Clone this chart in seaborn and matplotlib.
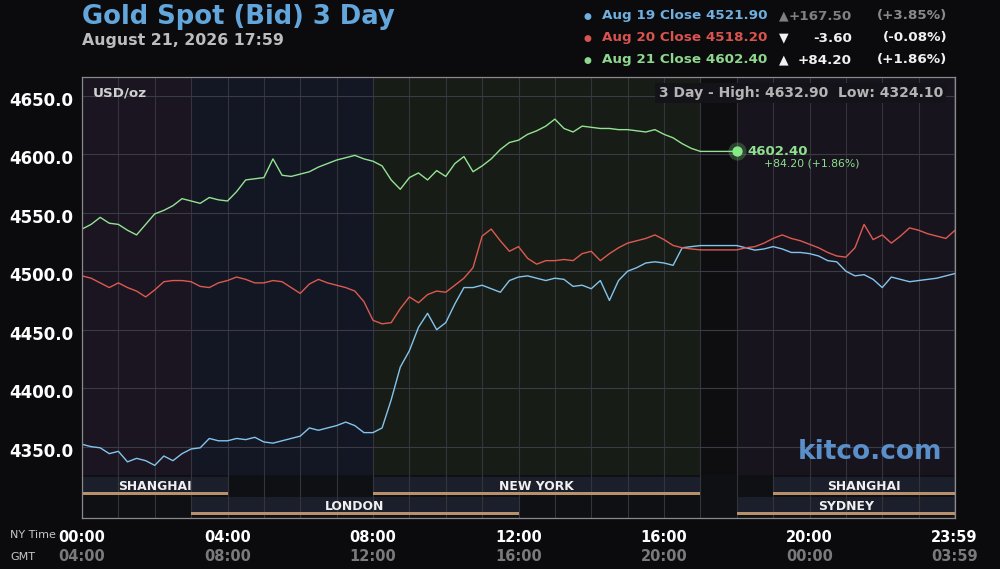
import numpy as np
import pandas as pd
import matplotlib
matplotlib.use("Agg")
import matplotlib.pyplot as plt
import seaborn as sns
from matplotlib.transforms import blended_transform_factory, ScaledTranslation

# ---------------- data (15-minute samples, NY time hours) ----------------
hours = [i * 0.25 for i in range(97)]          # 00:00 .. 24:00
green_hours = hours[:73]                        # 00:00 .. 18:00 (current 17:59)

aug19 = [
    4352, 4350, 4349, 4344,   # 0h
    4346, 4337, 4340, 4338,   # 1h
    4334, 4342, 4338, 4344,   # 2h
    4348, 4349, 4357, 4355,   # 3h
    4355, 4357, 4356, 4358,   # 4h
    4354, 4353, 4355, 4357,   # 5h
    4359, 4366, 4364, 4366,   # 6h
    4368, 4371, 4368, 4362,   # 7h
    4362, 4366, 4390, 4418,   # 8h
    4432, 4452, 4464, 4450,   # 9h
    4456, 4472, 4486, 4486,   # 10h
    4488, 4485, 4482, 4492,   # 11h
    4495, 4496, 4494, 4492,   # 12h
    4494, 4493, 4487, 4488,   # 13h
    4485, 4492, 4475, 4492,   # 14h
    4500, 4503, 4507, 4508,   # 15h
    4507, 4505, 4520, 4521,   # 16h
    4521.9, 4521.9, 4521.9, 4521.9,  # 17h
    4521.9, 4520, 4518, 4519,  # 18h
    4521, 4519, 4516, 4516,   # 19h
    4515, 4513, 4509, 4508,   # 20h
    4500, 4496, 4497, 4493,   # 21h
    4486, 4495, 4493, 4491,   # 22h
    4492, 4493, 4494, 4496,   # 23h
    4498,
]
aug20 = [
    4496, 4494, 4490, 4486,
    4490, 4486, 4483, 4478,
    4484, 4491, 4492, 4492,
    4491, 4487, 4486, 4490,
    4492, 4495, 4493, 4490,
    4490, 4492, 4491, 4486,
    4481, 4489, 4493, 4490,
    4488, 4486, 4483, 4474,
    4458, 4455, 4456, 4468,
    4478, 4473, 4480, 4483,
    4482, 4488, 4494, 4503,
    4530, 4536, 4526, 4517,
    4521, 4511, 4506, 4509,
    4509, 4510, 4509, 4515,
    4517, 4509, 4515, 4520,
    4524, 4526, 4528, 4531,
    4527, 4522, 4520, 4519,
    4518.2, 4518.2, 4518.2, 4518.2,
    4518.2, 4520, 4521, 4524,
    4528, 4531, 4528, 4526,
    4523, 4520, 4516, 4513,
    4512, 4520, 4540, 4527,
    4531, 4524, 4530, 4537,
    4535, 4532, 4530, 4528,
    4535,
]
aug21 = [
    4536, 4540, 4546, 4541,
    4540, 4535, 4531, 4540,
    4549, 4552, 4556, 4562,
    4560, 4558, 4563, 4561,
    4560, 4568, 4578, 4579,
    4580, 4596, 4582, 4581,
    4583, 4585, 4589, 4592,
    4595, 4597, 4599, 4596,
    4594, 4590, 4578, 4570,
    4580, 4584, 4578, 4586,
    4581, 4592, 4598, 4585,
    4590, 4596, 4604, 4610,
    4612, 4617, 4620, 4624,
    4630, 4622, 4619, 4624,
    4623, 4622, 4622, 4621,
    4621, 4620, 4619, 4621,
    4617, 4614, 4609, 4605,
    4602.4, 4602.4, 4602.4, 4602.4,
    4602.4,
]

series_names = ["Aug 19", "Aug 20", "Aug 21"]
line_colors = ["#84c4ec", "#dc5a50", "#93e393"]
text_colors = ["#6fb0e0", "#d9534f", "#8ed88e"]
closes = ["4521.90", "4518.20", "4602.40"]
arrows = ["\u25b2", "\u25bc", "\u25b2"]
changes = ["+167.50", "-3.60", "+84.20"]
pcts = ["(+3.85%)", "(-0.08%)", "(+1.86%)"]
change_colors = ["#808080", "#f0f0f0", "#f0f0f0"]

y_ticks = [4350, 4400, 4450, 4500, 4550, 4600, 4650]
x_ticks = [0, 4, 8, 12, 16, 20, 23.983]
ny_labels = ["00:00", "04:00", "08:00", "12:00", "16:00", "20:00", "23:59"]
gmt_labels = ["04:00", "08:00", "12:00", "16:00", "20:00", "00:00", "03:59"]

# sessions: (name, start, end, row)
sessions = [("SHANGHAI", 0, 4, 0), ("NEW YORK", 8, 17, 0), ("SHANGHAI", 19, 24, 0),
            ("LONDON", 3, 12, 1), ("SYDNEY", 18, 24, 1)]
# background zones
zones = [(0, 3, "#1a1520"), (3, 8, "#131623"), (8, 17, "#181c16"),
         (17, 18, "#0e0e10"), (18, 24, "#18141e")]

df = pd.concat([
    pd.DataFrame({"hour": hours, "price": aug19, "series": "Aug 19"}),
    pd.DataFrame({"hour": hours, "price": aug20, "series": "Aug 20"}),
    pd.DataFrame({"hour": green_hours, "price": aug21, "series": "Aug 21"}),
], ignore_index=True)

# ---------------- figure ----------------
sns.set_style("dark")
plt.rcParams["font.family"] = ["DejaVu Sans"]
BG = "#0b0b0d"
fig = plt.figure(figsize=(10, 5.69), dpi=100, facecolor=BG)
ax = fig.add_axes([0.082, 1 - 518 / 569, 0.873, 441 / 569])
ax.set_facecolor(BG)

for x0, x1, c in zones:
    ax.axvspan(x0, x1, color=c, zorder=0.1, lw=0)
ax.axvspan(0, 24, ymin=0, ymax=0.097, color="#0f1013", zorder=0.2, lw=0)

row_span = {0: (0.052, 0.093), 1: (0.006, 0.0476)}
row_line = {0: (0.052, 0.059), 1: (0.006, 0.013)}
row_text = {0: 0.072, 1: 0.027}
btrans = blended_transform_factory(ax.transData, ax.transAxes)
for name, s0, s1, row in sessions:
    a, b = row_span[row]
    ax.axvspan(s0, s1, ymin=a, ymax=b, color="#1b1f2b", zorder=0.3, lw=0)
    a, b = row_line[row]
    ax.axvspan(s0, s1, ymin=a, ymax=b, color="#b8916a", zorder=0.6, lw=0)
    ax.text((s0 + s1) / 2, row_text[row], name, transform=btrans, ha="center",
            va="center", fontsize=8.9, fontweight="bold", color="#f0f0f0", zorder=3)

sns.lineplot(data=df, x="hour", y="price", hue="series", hue_order=series_names,
             palette=line_colors, linewidth=1.0, legend=False, estimator=None,
             sort=False, ax=ax, zorder=2)

# end marker
ax.scatter([18], [4602.4], s=170, color="#7fe07f", alpha=0.25, lw=0, zorder=4)
ax.scatter([18], [4602.4], s=55, color="#86e886", lw=0, zorder=5)
ax.text(18.3, 4602.4, "4602.40", fontsize=9.5, fontweight="bold", color="#8ee08e",
        va="center", ha="left", zorder=5)
ax.text(18.75, 4592.3, "+84.20 (+1.86%)", fontsize=7.8, color="#8ee08e",
        va="center", ha="left", zorder=5)

ax.set_xlim(0, 24)
ax.set_ylim(4289, 4666)
ax.set_xticks(x_ticks, ny_labels)
ax.set_yticks(y_ticks, [f"{v:.1f}" for v in y_ticks])
ax.set_xticks(range(25), minor=True)
ax.set_xlabel("")
ax.set_ylabel("")
ax.tick_params(axis="y", length=0, pad=6.5, labelsize=12, labelcolor="white")
ax.tick_params(axis="x", which="both", length=0, pad=8.5, labelsize=10.5, labelcolor="white")
for lab in ax.get_yticklabels() + ax.get_xticklabels():
    lab.set_fontweight("bold")
for lab in ax.get_yticklabels():
    lab.set_transform(lab.get_transform() + ScaledTranslation(0, -3 / 100, fig.dpi_scale_trans))

ax.grid(True, which="both", axis="x", color="#33343c", lw=0.8)
ax.grid(True, which="major", axis="y", color="#3a3b44", lw=0.8)
ax.set_axisbelow(True)
for sp in ax.spines.values():
    sp.set_visible(True)
    sp.set_color("#8a8a8e")
    sp.set_linewidth(0.9)

for xv, g in zip(x_ticks, gmt_labels):
    ax.text(xv, -0.0884, g, transform=btrans, ha="center", va="center",
            fontsize=10.5, fontweight="bold", color="#7a7a7a", clip_on=False)

ax.text(0.0126, 0.9637, "USD/oz", transform=ax.transAxes, ha="left", va="center",
        fontsize=9.7, fontweight="bold", color="#d0d0d0", zorder=3)
ax.text(0.986, 0.9637, "3 Day - High: 4632.90  Low: 4324.10", transform=ax.transAxes,
        ha="right", va="center", fontsize=10, fontweight="bold", color="#b4b4b4", zorder=3,
        bbox=dict(boxstyle="square,pad=0.25", facecolor="#141319", edgecolor="none"))
ax.text(0.985, 0.1497, "kitco.com", transform=ax.transAxes, ha="right", va="center",
        fontsize=19, fontweight="bold", color="#5a8fca", zorder=3)

# ---------------- header ----------------
def fx(px):
    return px / 1000

def fy(py):
    return 1 - py / 569

fig.text(fx(82), fy(17), "Gold Spot (Bid) 3 Day", fontsize=18.6, fontweight="bold",
         color="#62a6dc", va="center", ha="left")
fig.text(fx(82), fy(41), "August 21, 2026 17:59", fontsize=11.3, fontweight="bold",
         color="#bdbdbd", va="center", ha="left")

for i, yy in enumerate([16, 38, 60]):
    fig.text(fx(587), fy(yy), "\u25cf", fontsize=6.5, color=text_colors[i], ha="center", va="center")
    fig.text(fx(602), fy(yy), f"{series_names[i]} Close {closes[i]}", fontsize=9.7,
             fontweight="bold", color=text_colors[i], ha="left", va="center")
    fig.text(fx(784), fy(yy), arrows[i], fontsize=9, color=change_colors[i], ha="center", va="center")
    fig.text(fx(852), fy(yy), changes[i], fontsize=9.7, fontweight="bold",
             color=change_colors[i], ha="right", va="center")
    fig.text(fx(947), fy(yy), pcts[i], fontsize=9.7, fontweight="bold",
             color="#8a8a8a" if i == 0 else "#f0f0f0", ha="right", va="center")

fig.text(fx(10), fy(535), "NY Time", fontsize=8, color="#c8c8c8", ha="left", va="center")
fig.text(fx(10), fy(557), "GMT", fontsize=8, color="#c8c8c8", ha="left", va="center")

fig.savefig("out.png", dpi=100, facecolor=BG)
